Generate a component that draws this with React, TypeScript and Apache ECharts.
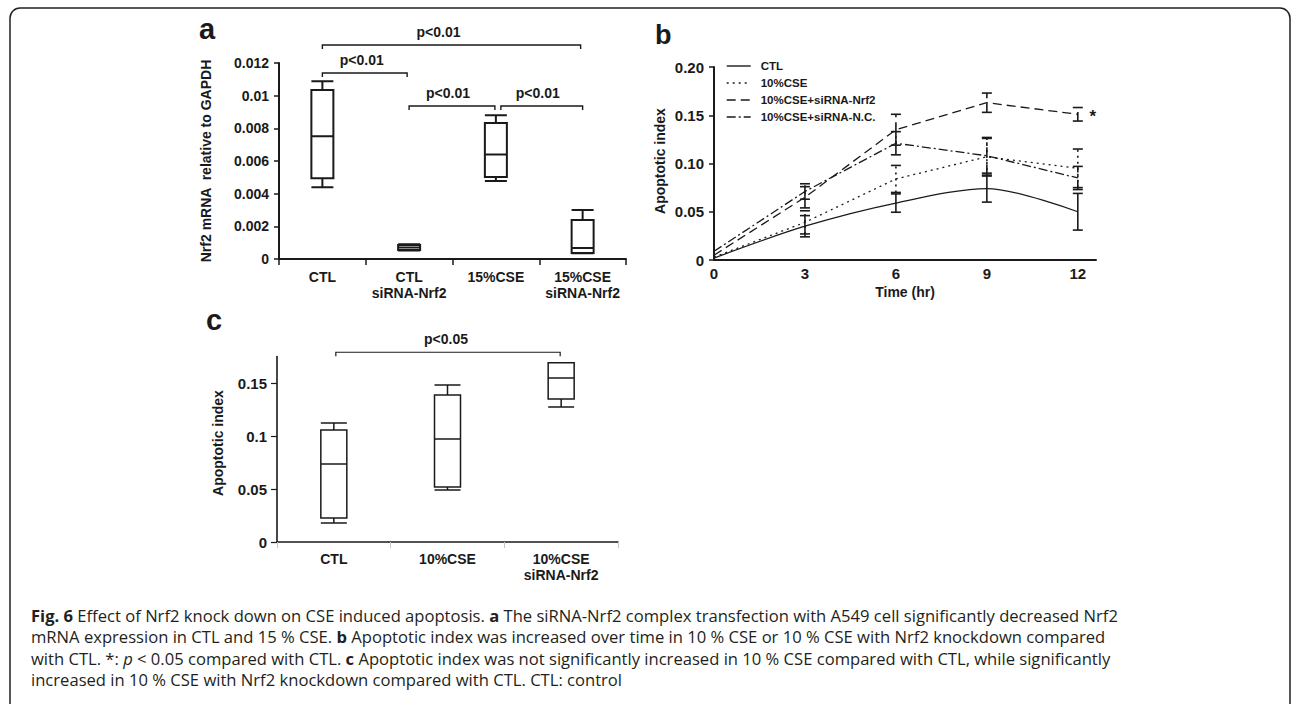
import React, { useEffect, useRef } from 'react';
import * as echarts from 'echarts';

const FONT = "'Liberation Sans', Arial, Helvetica, sans-serif";
const CAP_FONT = "'Open Sans', 'Noto Sans', sans-serif";
const INK = '#1a1a1a';

// ---------- Panel a: Nrf2 mRNA relative to GAPDH (box plots) ----------
const aCategories = ['CTL', 'CTL\nsiRNA-Nrf2', '15%CSE', '15%CSE\nsiRNA-Nrf2'];
// [min, Q1, median, Q3, max]
const aBoxes = [
  [0.0044, 0.00495, 0.00752, 0.01034, 0.01089],
  [0.00052, 0.00055, 0.0007, 0.00085, 0.0009],
  [0.00477, 0.00502, 0.0064, 0.00832, 0.0088],
  [0.00035, 0.00037, 0.00067, 0.00239, 0.003],
];
// [fromIndex, toIndex, yValue, label, dxStart, dxEnd, dxLabel]
const aBrackets: [number, number, number, string, number, number, number][] = [
  [0, 3, 0.0131, 'p<0.01', 0, -2, -13],
  [0, 1, 0.01139, 'p<0.01', 0, -2, -3],
  [1, 2, 0.00937, 'p<0.01', 0, -1, -4],
  [2, 3, 0.00937, 'p<0.01', 5, 0, -4],
];

// ---------- Panel b: Apoptotic index over time ----------
const bTimes = [0, 3, 6, 9, 12];
const bNames = ['CTL', '10%CSE', '10%CSE+siRNA-Nrf2', '10%CSE+siRNA-N.C.'];
const bCtlMean = [0.002, 0.035, 0.059, 0.074, 0.05];
const bCtlErr = [0, 0.011, 0.0095, 0.014, 0.019];
const bCseMean = [0.003, 0.039, 0.084, 0.107, 0.095];
const bCseErr = [0, 0.012, 0.014, 0.02, 0.02];
const bNrf2Mean = [0.005, 0.065, 0.135, 0.163, 0.151];
const bNrf2Err = [0, 0.011, 0.016, 0.01, 0.007];
const bNcMean = [0.009, 0.071, 0.121, 0.108, 0.085];
const bNcErr = [0, 0.008, 0.012, 0.018, 0.012];
const bXTicks = [0, 3, 6, 9, 12];

// ---------- Panel c: Apoptotic index (box plots) ----------
const cCategories = ['CTL', '10%CSE', '10%CSE\nsiRNA-Nrf2'];
const cBoxes = [
  [0.018, 0.0226, 0.0736, 0.1057, 0.1123],
  [0.049, 0.0519, 0.0972, 0.1387, 0.148],
  [0.1274, 0.135, 0.1547, 0.169, 0.169],
];
const cBrackets: [number, number, number, string, number, number, number][] = [
  [0, 2, 0.179, 'p<0.05', 2, -1, -2],
];
const cYTicks = [0, 0.05, 0.1, 0.15];

// ---------- Caption ----------
const captionLines = [
  '{b|Fig. 6} Effect of Nrf2 knock down on CSE induced apoptosis. {b|a} The siRNA-Nrf2 complex transfection with A549 cell significantly decreased Nrf2',
  'mRNA expression in CTL and 15 % CSE. {b|b} Apoptotic index was increased over time in 10 % CSE or 10 % CSE with Nrf2 knockdown compared',
  'with CTL. *: {i|p} < 0.05 compared with CTL. {b|c} Apoptotic index was not significantly increased in 10 % CSE compared with CTL, while significantly',
  'increased in 10 % CSE with Nrf2 knockdown compared with CTL. CTL: control',
];

const dashes: any[] = ['solid', [2, 4], [9, 5], [9, 3, 2, 3]];
const means = [bCtlMean, bCseMean, bNrf2Mean, bNcMean];
const errs = [bCtlErr, bCseErr, bNrf2Err, bNcErr];

const CAP_SIZE = 16.6;

const boldLabel = (size: number) => ({
  color: INK,
  fontSize: size,
  fontWeight: 'bold' as const,
  fontFamily: FONT,
});

function errRender(dash: any) {
  return (params: any, api: any) => {
    const x = api.value(0);
    const lo = api.value(1);
    const hi = api.value(2);
    const a = api.coord([x, lo]);
    const b = api.coord([x, hi]);
    const w = 5;
    const lineDash = Array.isArray(dash) ? dash : null;
    return {
      type: 'group',
      children: [
        {
          type: 'line',
          shape: { x1: a[0], y1: a[1], x2: b[0], y2: b[1] },
          style: { stroke: INK, lineWidth: 1.6, lineDash },
        },
        {
          type: 'line',
          shape: { x1: a[0] - w, y1: a[1], x2: a[0] + w, y2: a[1] },
          style: { stroke: INK, lineWidth: 1.6 },
        },
        {
          type: 'line',
          shape: { x1: b[0] - w, y1: b[1], x2: b[0] + w, y2: b[1] },
          style: { stroke: INK, lineWidth: 1.6 },
        },
      ],
    };
  };
}

function buildOption(): any {
  const lineSeries = bNames.map((name, k) => ({
    type: 'line',
    name,
    xAxisIndex: 1,
    yAxisIndex: 1,
    data: bTimes.map((t, i) => [t, means[k][i]]),
    symbol: 'none',
    smooth: k === 0 ? 0.3 : false,
    itemStyle: { color: INK },
    lineStyle: { color: INK, width: 1.3, type: dashes[k] },
    silent: true,
    z: 3,
  }));
  const errSeries = bNames.map((name, k) => ({
    type: 'custom',
    name: 'err-' + name,
    xAxisIndex: 1,
    yAxisIndex: 1,
    data: bTimes
      .map((t, i) => [t, means[k][i] - errs[k][i], means[k][i] + errs[k][i]])
      .filter((_, i) => errs[k][i] > 0),
    encode: { x: 0, y: [1, 2] },
    renderItem: errRender(dashes[k]),
    silent: true,
    z: 4,
  }));

  return {
    animation: false,
    backgroundColor: '#ffffff',
    textStyle: { fontFamily: FONT },
    grid: [
      { left: 279, top: 63, width: 347, height: 196, outerBoundsMode: 'none' },
      { left: 714, top: 67, width: 382, height: 193, outerBoundsMode: 'none' },
      { left: 277, top: 356.5, width: 341, height: 185.5, outerBoundsMode: 'none' },
    ],
    legend: {
      orient: 'vertical',
      left: 721,
      top: 55,
      itemWidth: 24,
      itemHeight: 12,
      itemGap: 5,
      selectedMode: false,
      data: bNames,
      itemStyle: { opacity: 0 },
      lineStyle: { width: 1.4 },
      textStyle: { ...boldLabel(11.5), padding: [0, 0, 0, 5] },
    },
    xAxis: [
      {
        gridIndex: 0,
        type: 'category',
        data: aCategories,
        axisLine: { lineStyle: { color: INK, width: 2 } },
        axisTick: { show: true, length: 6, lineStyle: { color: INK, width: 1.5 } },
        axisLabel: { ...boldLabel(14), lineHeight: 16, margin: 10, interval: 0 },
        splitLine: { show: false },
      },
      {
        gridIndex: 1,
        type: 'value',
        min: 0,
        max: 12.6,
        interval: 3,
        axisLine: { lineStyle: { color: INK, width: 2 } },
        axisTick: { show: false },
        axisLabel: { ...boldLabel(15), margin: 6, customValues: bXTicks },
        splitLine: { show: false },
        name: 'Time (hr)',
        nameLocation: 'middle',
        nameGap: 25,
        nameTextStyle: boldLabel(14),
      },
      {
        gridIndex: 2,
        type: 'category',
        data: cCategories,
        axisLine: { lineStyle: { color: INK, width: 1.6 } },
        axisTick: { show: true, length: 6, lineStyle: { color: '#c4c4c4', width: 1 } },
        axisLabel: { ...boldLabel(14), lineHeight: 16, margin: 9, interval: 0 },
        splitLine: { show: false },
      },
    ],
    yAxis: [
      {
        gridIndex: 0,
        type: 'value',
        min: 0,
        max: 0.012,
        interval: 0.002,
        axisLine: { show: true, lineStyle: { color: INK, width: 2 } },
        axisTick: { show: true, length: 5, lineStyle: { color: INK, width: 1.5 } },
        axisLabel: { ...boldLabel(14), margin: 10 },
        splitLine: { show: false },
      },
      {
        gridIndex: 1,
        type: 'value',
        min: 0,
        max: 0.2,
        interval: 0.05,
        axisLine: { show: true, lineStyle: { color: INK, width: 2 } },
        axisTick: { show: true, length: 5, lineStyle: { color: INK, width: 1.5 } },
        axisLabel: {
          ...boldLabel(15),
          margin: 10,
          formatter: (v: number) => (v === 0 ? '0' : v.toFixed(2)),
        },
        splitLine: { show: false },
      },
      {
        gridIndex: 2,
        type: 'value',
        min: 0,
        max: 0.175,
        interval: 0.05,
        axisLine: { show: true, lineStyle: { color: INK, width: 1.6 } },
        axisTick: { show: true, length: 6, lineStyle: { color: INK, width: 1.2 }, customValues: cYTicks },
        axisLabel: { ...boldLabel(15), margin: 10, customValues: cYTicks },
        splitLine: { show: false },
      },
    ],
    series: [
      {
        type: 'boxplot',
        name: 'a',
        xAxisIndex: 0,
        yAxisIndex: 0,
        data: aBoxes,
        boxWidth: [22, 22],
        itemStyle: { color: '#ffffff', borderColor: INK, borderWidth: 2 },
        silent: true,
      },
      {
        type: 'boxplot',
        name: 'c',
        xAxisIndex: 2,
        yAxisIndex: 2,
        data: cBoxes,
        boxWidth: [26, 26],
        itemStyle: { color: '#ffffff', borderColor: INK, borderWidth: 1.5 },
        silent: true,
      },
      ...lineSeries,
      ...errSeries,
    ],
  };
}

function txt(x: number, y: number, text: string, font: string, align = 'center', vAlign = 'middle', extra: any = {}) {
  return {
    type: 'text',
    x,
    y,
    silent: true,
    ...extra,
    style: {
      text,
      font,
      fill: INK,
      align,
      verticalAlign: vAlign,
      textAlign: align,
      textVerticalAlign: vAlign,
    },
  };
}

function buildGraphics(chart: any) {
  const els: any[] = [];
  // outer frame
  els.push({
    type: 'rect',
    silent: true,
    shape: { x: 10, y: 8, width: 1280, height: 760, r: 10 },
    style: { fill: 'none', stroke: '#222', lineWidth: 1.5 },
  });
  // panel letters
  els.push(txt(199, 43, 'a', `bold 29px ${FONT}`, 'left', 'bottom'));
  els.push(txt(655, 48, 'b', `bold 27px ${FONT}`, 'left', 'bottom'));
  els.push(txt(206, 334, 'c', `bold 29px ${FONT}`, 'left', 'bottom'));
  // y axis titles
  els.push(txt(206, 161, 'Nrf2 mRNA  relative to GAPDH', `bold 14px ${FONT}`, 'center', 'middle', { rotation: Math.PI / 2 }));
  els.push(txt(660, 161, 'Apoptotic index', `bold 14px ${FONT}`, 'center', 'middle', { rotation: Math.PI / 2 }));
  els.push(txt(218, 443, 'Apoptotic index', `bold 14px ${FONT}`, 'center', 'middle', { rotation: Math.PI / 2 }));

  // significance brackets
  const addBrackets = (gi: number, list: [number, number, number, string, number, number, number][], lw: number) => {
    list.forEach(([f, t, yv, label, dx1, dx2, dxl]) => {
      const p1 = chart.convertToPixel({ gridIndex: gi }, [f, yv]);
      const p2 = chart.convertToPixel({ gridIndex: gi }, [t, yv]);
      const x1 = p1[0] + dx1;
      const x2 = p2[0] + dx2;
      const y = p1[1];
      els.push({
        type: 'polyline',
        silent: true,
        shape: { points: [[x1, y + 4], [x1, y], [x2, y], [x2, y + 4]] },
        style: { stroke: INK, lineWidth: lw, fill: 'none' },
      });
      els.push(txt((x1 + x2) / 2 + dxl, y - 13, label, `bold 14px ${FONT}`));
    });
  };
  addBrackets(0, aBrackets, 1.4);
  addBrackets(2, cBrackets, 1.2);

  // asterisk at last time point of siRNA-Nrf2
  const pa = chart.convertToPixel({ gridIndex: 1 }, [bTimes[4], bNrf2Mean[4]]);
  els.push(txt(pa[0] + 15, pa[1] + 2, '*', `bold 17px ${FONT}`));

  // caption
  captionLines.forEach((line, i) => {
    els.push({
      type: 'text',
      x: 31,
      y: 615 + i * 21.5,
      silent: true,
      style: {
        text: line,
        font: `${CAP_SIZE}px ${CAP_FONT}`,
        fill: '#231f20',
        align: 'left',
        verticalAlign: 'middle',
        textAlign: 'left',
        textVerticalAlign: 'middle',
        rich: {
          b: { fontWeight: 'bold', fontSize: CAP_SIZE, fontFamily: CAP_FONT, fill: '#231f20' },
          i: { fontStyle: 'italic', fontSize: CAP_SIZE, fontFamily: CAP_FONT, fill: '#231f20' },
        },
      },
    });
  });
  return els;
}

export default function App() {
  const ref = useRef<HTMLDivElement>(null);
  useEffect(() => {
    const chart = echarts.init(ref.current as HTMLDivElement, null, { renderer: 'svg', width: 1292, height: 704 });
    chart.setOption(buildOption());
    chart.setOption({ graphic: { elements: buildGraphics(chart) } });
    return () => chart.dispose();
  }, []);
  return (
    <div
      ref={ref}
      style={{ position: 'absolute', left: 0, top: 0, width: 1292, height: 704, background: '#ffffff' }}
    />
  );
}
